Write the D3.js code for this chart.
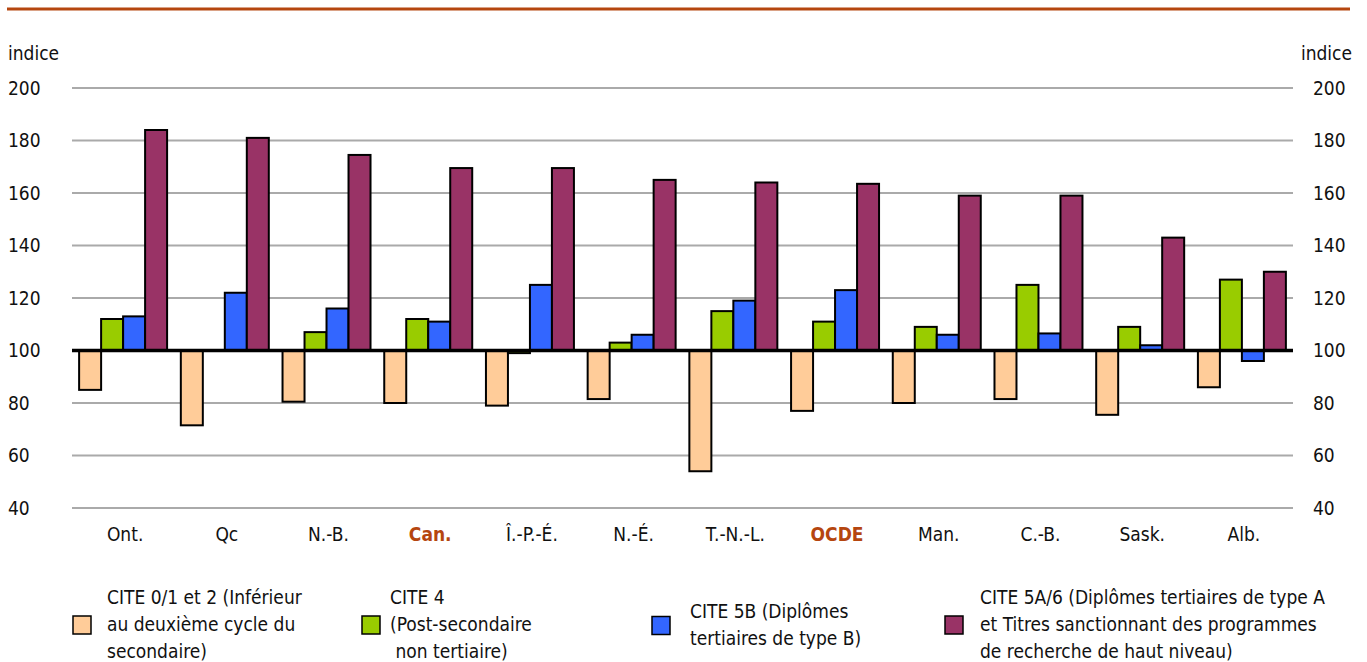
<!DOCTYPE html>
<html>
<head>
<meta charset="utf-8">
<script src="https://cdn.jsdelivr.net/npm/d3@7"></script>
<style>
    body { margin: 0; background: #fff; }
    svg text { font-family: "Liberation Sans Narrow", "DejaVu Sans Condensed", "Roboto", sans-serif; fill: #111; }
</style>
</head>
<body>
<div id="container"></div>
<script>
const categories = ['Ont.', 'Qc', 'N.-B.', 'Can.', 'Î.-P.-É.', 'N.-É.', 'T.-N.-L.', 'OCDE', 'Man.', 'C.-B.', 'Sask.', 'Alb.'];
const highlighted = ['Can.', 'OCDE'];

const cite012 = [85, 71.5, 80.5, 80, 79, 81.5, 54, 77, 80, 81.5, 75.5, 86];
const cite4 = [112, 100, 107, 112, 99, 103, 115, 111, 109, 125, 109, 127];
const cite5b = [113, 122, 116, 111, 125, 106, 119, 123, 106, 106.5, 102, 96];
const cite5a6 = [184, 181, 174.5, 169.5, 169.5, 165, 164, 163.5, 159, 159, 143, 130];

const seriesNames = ['cite012', 'cite4', 'cite5b', 'cite5a6'];
const seriesValues = [cite012, cite4, cite5b, cite5a6];
const seriesColors = ['#ffcc99', '#99cc00', '#3366ff', '#993366'];
const legendLabels = [
    ['CITE 0/1 et 2 (Inférieur', 'au deuxième cycle du', 'secondaire)'],
    ['CITE 4', '(Post-secondaire', ' non tertiaire)'],
    ['CITE 5B (Diplômes', 'tertiaires de type B)'],
    ['CITE 5A/6 (Diplômes tertiaires de type A', 'et Titres sanctionnant des programmes', 'de recherche de haut niveau)']
];
const yTicks = [40, 60, 80, 100, 120, 140, 160, 180, 200];

const width = 1367, height = 662;
const plotLeft = 72, plotRight = 1293, plotTop = 88, plotBottom = 508;

const svg = d3.select('#container')
    .append('svg')
    .attr('width', width)
    .attr('height', height);

// top rule
svg.append('line')
    .attr('x1', 7).attr('x2', 1350)
    .attr('y1', 9).attr('y2', 9)
    .attr('stroke', '#b5460f')
    .attr('stroke-width', 3);

const y = d3.scaleLinear().domain([40, 200]).range([plotBottom, plotTop]);
const x0 = d3.scaleBand().domain(categories).range([plotLeft, plotRight]).paddingInner(0.135).paddingOuter(0.07);
const x1 = d3.scaleBand().domain(seriesNames).range([0, x0.bandwidth()]);

// grid
svg.append('g')
    .selectAll('line')
    .data(yTicks)
    .enter()
    .append('line')
    .attr('x1', plotLeft).attr('x2', plotRight)
    .attr('y1', d => y(d)).attr('y2', d => y(d))
    .attr('stroke', '#aaa')
    .attr('stroke-width', 2);

// left + right axes (labels only)
const leftAxis = svg.append('g')
    .attr('transform', `translate(${plotLeft - 32},0)`)
    .call(d3.axisLeft(y).tickValues(yTicks).tickSize(0).tickPadding(0));
const rightAxis = svg.append('g')
    .attr('transform', `translate(${plotRight + 20},0)`)
    .call(d3.axisRight(y).tickValues(yTicks).tickSize(0).tickPadding(0));
[leftAxis, rightAxis].forEach(ax => {
    ax.select('.domain').remove();
    ax.selectAll('text').attr('font-size', 19).attr('fill', '#111');
});
leftAxis.selectAll('text').attr('text-anchor', 'start').attr('x', -32);

svg.append('text').attr('x', 8).attr('y', 60).attr('font-size', 19).text('indice');
svg.append('text').attr('x', 1352).attr('y', 60).attr('font-size', 19).attr('text-anchor', 'end').text('indice');

// bars
const groups = svg.append('g')
    .selectAll('g')
    .data(categories)
    .enter()
    .append('g')
    .attr('transform', d => `translate(${x0(d)},0)`);

groups.selectAll('rect')
    .data((d, i) => seriesNames.map((s, j) => ({ key: s, value: seriesValues[j][i], color: seriesColors[j] })))
    .enter()
    .append('rect')
    .attr('x', d => x1(d.key))
    .attr('y', d => y(Math.max(d.value, 100)))
    .attr('width', x1.bandwidth())
    .attr('height', d => Math.abs(y(d.value) - y(100)))
    .attr('fill', d => d.color)
    .attr('stroke', '#000')
    .attr('stroke-width', 2);

// baseline at 100
svg.append('line')
    .attr('x1', plotLeft).attr('x2', plotRight)
    .attr('y1', y(100)).attr('y2', y(100))
    .attr('stroke', '#000')
    .attr('stroke-width', 3.5);

// category labels
svg.append('g')
    .selectAll('text')
    .data(categories)
    .enter()
    .append('text')
    .attr('x', d => x0(d) + x0.bandwidth() / 2 + 2)
    .attr('y', 541)
    .attr('text-anchor', 'middle')
    .attr('font-size', 19)
    .attr('font-weight', d => highlighted.includes(d) ? 'bold' : 'normal')
    .style('fill', d => highlighted.includes(d) ? '#b5460f' : '#111')
    .text(d => d);

// legend
const legendX = [73, 362, 652, 945];
const textX = [107, 390, 690, 980];
const legend = svg.append('g');
legendLabels.forEach((lines, i) => {
    const n = lines.length;
    const firstBase = n === 3 ? 604 : 618;
    const midY = firstBase + (n - 1) * 27 / 2 - 6;
    legend.append('rect')
        .attr('x', legendX[i])
        .attr('y', midY - 9)
        .attr('width', 18)
        .attr('height', 18)
        .attr('fill', seriesColors[i])
        .attr('stroke', '#000')
        .attr('stroke-width', 1.5);
    lines.forEach((t, k) => {
        legend.append('text')
            .attr('x', textX[i])
            .attr('y', firstBase + k * 27)
            .attr('font-size', 19)
            .style('white-space', 'pre')
            .text(t);
    });
});
</script>
</body>
</html>
